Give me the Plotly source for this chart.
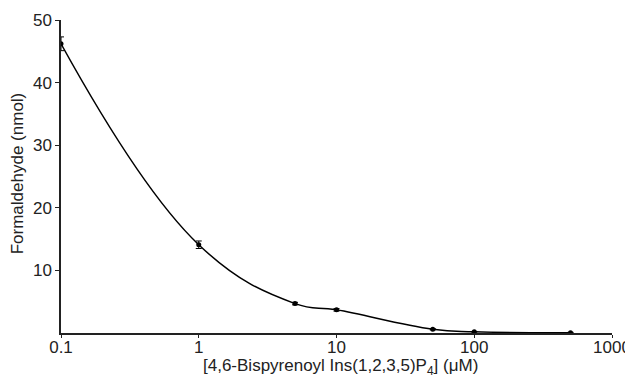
import plotly.graph_objects as go

conc = [0.1, 1, 5, 10, 50, 100, 500]
formaldehyde = [46.2, 14.1, 4.7, 3.7, 0.6, 0.2, 0.05]
err = [1.1, 0.6, 0.2, 0.2, 0.1, 0.05, 0.05]
y_ticks = [10, 20, 30, 40, 50]
x_ticks = [0.1, 1, 10, 100, 1000]
x_ticklabels = ["0.1", "1", "10", "100", "1000"]
x_title = "[4,6-Bispyrenoyl Ins(1,2,3,5)P<sub>4</sub>] (μM)"
y_title = "Formaldehyde (nmol)"

fig = go.Figure()
fig.add_trace(go.Scatter(
    x=conc, y=formaldehyde,
    mode="lines+markers",
    line=dict(color="black", width=1.5, shape="spline", smoothing=1.2),
    marker=dict(color="black", size=5),
    error_y=dict(type="data", array=err, color="black", thickness=1, width=3),
    showlegend=False,
))

# the page body adds an 8px offset, so the figure is 8px smaller
font_family = "Liberation Sans, Arial, sans-serif"
fig.update_layout(
    width=625, height=369,
    margin=dict(l=53, r=21, t=12, b=44),
    paper_bgcolor="white", plot_bgcolor="white",
    font=dict(family=font_family, color="#222", size=17),
    xaxis=dict(
        type="log", range=[-1, 3], automargin=False,
        tickvals=x_ticks, ticktext=x_ticklabels,
        showgrid=False, zeroline=False,
        showline=True, linecolor="#222", linewidth=1.5,
        ticks="outside", ticklen=3, tickcolor="#222",
        tickfont=dict(size=17), ticklabelstandoff=-5,
    ),
    yaxis=dict(
        range=[0, 50], automargin=False,
        tickvals=y_ticks,
        showgrid=False, zeroline=False,
        showline=True, linecolor="#222", linewidth=1.5,
        ticks="outside", ticklen=4, tickcolor="#222",
        tickfont=dict(size=17),
    ),
    annotations=[
        dict(text=x_title, xref="paper", yref="paper", x=0.508, y=-0.11,
             xanchor="center", yanchor="middle", showarrow=False,
             font=dict(size=17)),
        dict(text=y_title, xref="paper", yref="paper", x=-0.08, y=0.51,
             xanchor="center", yanchor="middle", textangle=-90, showarrow=False,
             font=dict(size=17)),
    ],
)

fig.write_html("out.html")
